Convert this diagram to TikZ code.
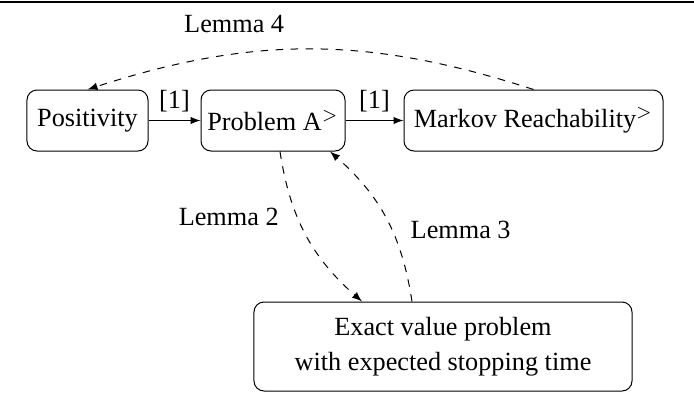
\documentclass[tikz,border=0pt]{standalone}
\usepackage{fontspec}
\setmainfont{Liberation Serif}
\usetikzlibrary{arrows}

\tikzset{
  probbox/.style={draw,rounded corners=4pt,inner sep=0pt,minimum height=24.4pt,align=center},
  reduc/.style={->,>=latex},
  lemma/.style={->,>=latex,dashed},
}

\begin{document}
\begin{tikzpicture}[x=0.4pt,y=-0.4pt,font=\fontsize{10.5}{14}\selectfont]
        \useasboundingbox (0,0) rectangle (694,401);
        % Rule on top.
        \draw[line width=0.8pt] (0,1.5) -- (694,1.5);

        % Problems.
        \node[probbox,minimum width=48.4pt] (pos) at (87.5,120.5) {Positivity};
        \node[probbox,minimum width=57.6pt] (probA) at (273,120.5) {Problem A$^>$};
        \node[probbox,minimum width=103.6pt] (markov) at (533.5,120.5) {Markov Reachability$^>$};
        \node[probbox,minimum width=151.2pt,minimum height=35.6pt] (exact) at (443,346.5)
          {Exact value problem\\with expected stopping time};

        % Known reductions.
        \draw[reduc] (pos) -- node[above] {[1]} (probA);
        \draw[reduc] (probA) -- node[above] {[1]} (markov);

        % Our lemmas.
        \draw[lemma] (markov.north) to[bend right=18] node[pos=0.68,above=5pt] {Lemma 4} (pos.north);
        \draw[lemma] ([xshift=2.8pt]probA.south) to[bend right=20] node[pos=0.38,left=4pt] {Lemma 2} ([xshift=-32.4pt]exact.north);
        \draw[lemma] ([xshift=-12.4pt]exact.north) to[bend right=20] node[pos=0.42,right=4pt] {Lemma 3} ([xshift=22.8pt]probA.south);
\end{tikzpicture}
\end{document}
